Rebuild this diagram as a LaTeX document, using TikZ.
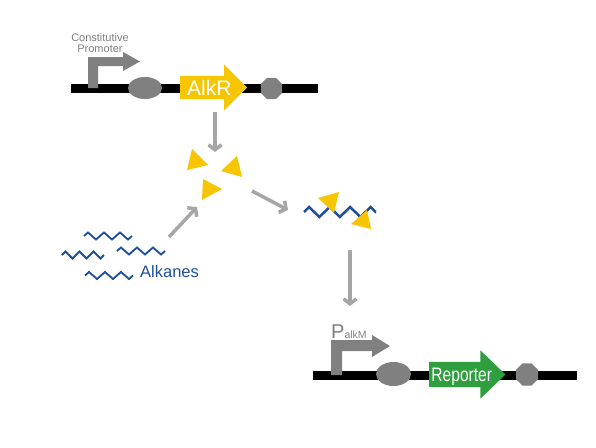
\documentclass[tikz,border=0pt]{standalone}
\usepackage{fontspec}
\setmainfont{Liberation Sans}
\newfontfamily\angosta[FakeStretch=0.8]{Liberation Sans}
\usetikzlibrary{shapes.geometric,shapes.arrows,arrows.meta,decorations.pathmorphing}
\definecolor{gris}{HTML}{808080}
\definecolor{grisflecha}{HTML}{A6A6A6}
\definecolor{amarillo}{HTML}{F7C600}
\definecolor{verde}{HTML}{2E9E3E}
\definecolor{azul}{HTML}{1F4E9B}

\begin{document}
\begin{tikzpicture}[
        x=1pt, y=-1pt,
        adn/.style={line width=9pt},
        rbs/.style={ellipse, fill=gris, inner sep=0pt},
        term/.style={regular polygon, regular polygon sides=8, fill=gris, inner sep=0pt},
        gen/.style={single arrow, single arrow head extend=11.5pt, single arrow head indent=0pt,
            minimum width=0pt, inner xsep=0pt, text depth=0pt, text=white, anchor=tail},
        flecha/.style={grisflecha, line width=3.5pt, -{Straight Barb[length=5pt,width=13pt]}},
        alcano/.style={azul, line width=1.8pt, decorate,
            decoration={zigzag, segment length=16pt, amplitude=3.5pt}},
        ligando/.style={fill=amarillo}
    ]
        \useasboundingbox (0,0) rectangle (596,447);

        % Construcción del regulador
        \draw[adn] (71,88) -- (318,88);
        \fill[gris] (88,88) -- (88,57) -- (123,57) -- (123,52) -- (140,61.5)
            -- (123,71) -- (123,66) -- (98,66) -- (98,88) -- cycle;
        \node[gris, align=center, font=\fontsize{11}{10.5}\selectfont] (constitutivo) at (100,43) {Constitutive\\Promoter};
        \node[rbs, minimum width=34pt, minimum height=22pt] (rbs1) at (145,88) {};
        \node[gen, fill=amarillo, minimum height=67pt, text height=15pt, inner ysep=4pt,
            font=\fontsize{21}{21}\selectfont] (alkr) at (180,87.5) {\hspace{3pt}AlkR};
        \node[term, minimum size=23pt] (term1) at (271.5,88.5) {};

        % Inductor libre
        \fill[ligando] (192,149) -- (187,170) -- (208,165) -- cycle;
        \fill[ligando] (237,156) -- (221,171) -- (242,177) -- cycle;
        \fill[ligando] (203,179) -- (202,200) -- (222,189) -- cycle;

        % Alcanos
        \draw[alcano] (84,236) -- (132,236);
        \draw[alcano, decoration={segment length=14pt}] (62,255) -- (104,255);
        \draw[alcano] (117,251) -- (165,251);
        \draw[alcano] (85,275.5) -- (133,275.5);
        \node[azul, anchor=base west, inner sep=0pt, font=\fontsize{16.5}{16.5}\selectfont] (alcanos) at (140,277) {Alkanes};

        % Complejo alcano-AlkR
        \draw[azul, line width=2.5pt, decorate,
            decoration={zigzag, segment length=20.5pt, amplitude=5pt}] (304,212) -- (376,212);
        \fill[ligando] (318,198) -- (339,192) -- (334,213) -- cycle;
        \fill[ligando] (367,210) -- (351,224) -- (371,229) -- cycle;

        % Construcción del reportero
        \draw[adn] (313,375) -- (577,375);
        \fill[gris] (331,375) -- (331,340) -- (372,340) -- (372,335) -- (390,346)
            -- (372,357) -- (372,351) -- (342,351) -- (342,375) -- cycle;
        \node[gris, anchor=base west, inner sep=0pt, font=\fontsize{20}{20}\selectfont] (palkm) at (331,338)
            {P{\fontsize{10.5}{10.5}\selectfont alkM}};
        \node[rbs, minimum width=35pt, minimum height=24pt] (rbs2) at (393.5,374) {};
        \node[gen, fill=verde, minimum height=72pt, text height=13pt, inner ysep=6pt,
            single arrow tip angle=88, font=\angosta\fontsize{19.5}{19.5}\selectfont] (reporter) at (429,374.5) {\hspace{2pt}Reporter};
        \node[term, minimum size=24pt] (term2) at (527,374.5) {};

        % Flechas
        \coordinate (alkr-sal) at (215,112);
        \coordinate (lig-ent) at (215,152);
        \coordinate (alc-sal) at (169,237);
        \coordinate (lig-sur) at (197,207);
        \coordinate (lig-sal) at (252,191);
        \coordinate (comp-ent) at (288,210);
        \coordinate (comp-sal) at (350,250);
        \coordinate (palkm-ent) at (350,306);
        \draw[flecha] (alkr-sal) -- (lig-ent);
        \draw[flecha] (alc-sal) -- (lig-sur);
        \draw[flecha] (lig-sal) -- (comp-ent);
        \draw[flecha] (comp-sal) -- (palkm-ent);
\end{tikzpicture}
\end{document}
